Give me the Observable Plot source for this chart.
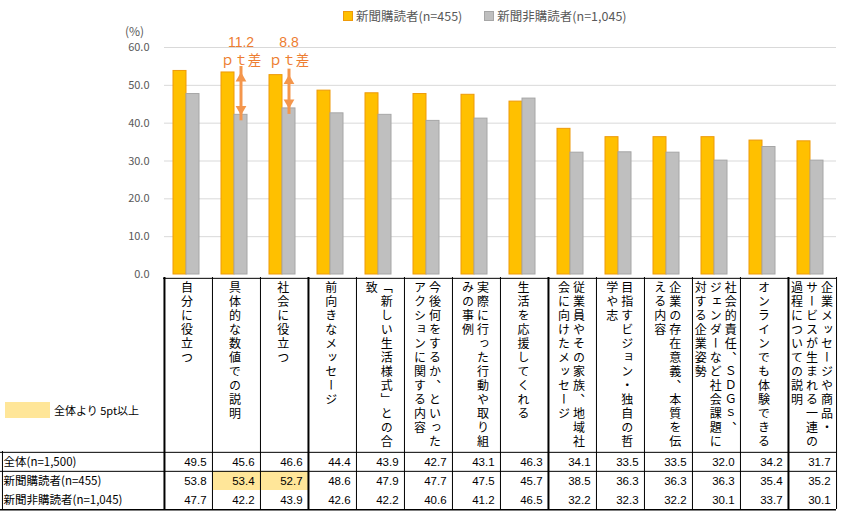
<!DOCTYPE html>
<html><head><meta charset="utf-8">
<script src="https://cdn.jsdelivr.net/npm/d3@7"></script>
<script src="https://cdn.jsdelivr.net/npm/@observablehq/plot@0.6"></script>
<style>
body{margin:0;background:#fff;font-family:"Noto Sans CJK JP","Noto Sans",sans-serif;}
#wrap{position:relative;width:850px;height:511px;overflow:hidden;background:#fff;}
#wrap svg{position:absolute;left:0;overflow:visible;}
#legend{position:absolute;top:6px;left:343px;font-size:12.5px;color:#595959;display:flex;align-items:center;white-space:nowrap;}
#legend .item{display:flex;align-items:center;margin-right:22px;}
#legend .sw{width:8px;height:8px;margin-right:3px;border:1px solid;}
#heads{position:absolute;top:277px;left:0;height:174px;}
.head{position:absolute;top:0;height:174px;display:flex;justify-content:center;}
.head div{writing-mode:vertical-rl;height:170px;margin-top:4px;font-size:12px;letter-spacing:2px;line-height:15px;color:#000;white-space:pre-line;}
#pct{position:absolute;font-size:12px;color:#595959;}
#note{position:absolute;left:5px;top:402px;display:flex;align-items:center;font-size:11px;color:#000;}
#note .sw{width:45px;height:16px;margin-right:4px;}
</style></head><body><div id="wrap"></div>
<script>
const categories = [
  "自分に役立つ",
  "具体的な数値での説明",
  "社会に役立つ",
  "前向きなメッセージ",
  "「新しい生活様式」との合致",
  "今後何をするか、といったアクションに関する内容",
  "実際に行った行動や取り組みの事例",
  "生活を応援してくれる",
  "従業員やその家族、地域社会に向けたメッセージ",
  "目指すビジョン・独自の哲学や志",
  "企業の存在意義、本質を伝える内容",
  "社会的責任、ＳＤＧｓ、\nジェンダーなど社会課題に\n対する企業姿勢",
  "オンラインでも体験できる",
  "企業メッセージや商品・\nサービスが生まれる一連の\n過程についての説明"
];
const total      = [49.5, 45.6, 46.6, 44.4, 43.9, 42.7, 43.1, 46.3, 34.1, 33.5, 33.5, 32.0, 34.2, 31.7];
const readers    = [53.8, 53.4, 52.7, 48.6, 47.9, 47.7, 47.5, 45.7, 38.5, 36.3, 36.3, 36.3, 35.4, 35.2];
const nonReaders = [47.7, 42.2, 43.9, 42.6, 42.2, 40.6, 41.2, 46.5, 32.2, 32.3, 32.2, 30.1, 33.7, 30.1];
const seriesNames = ["新聞購読者(n=455)", "新聞非購読者(n=1,045)"];
const rowLabels = ["全体(n=1,500)", "新聞購読者(n=455)", "新聞非購読者(n=1,045)"];
const yTicks = [0, 10, 20, 30, 40, 50, 60];
const highlighted = [1, 2];   // 新聞購読者 cells 5pt or more above 全体
const annotated = [1, 2];     // categories with the gap arrow
const groupStarts = [0, 3, 8, 13];
const noteText = "全体より 5pt以上";
const diffSuffix = "ｐｔ差";

const fills = ["#FFC000", "#BFBFBF"];
const strokes = ["#EE9A0A", "#A6A6A6"];
const orange = "#ED7D31";
const arrowColor = "#F4964C";
const highlightFill = "#FFE699";

const W = 850, ML = 163, MR = 14;
const bw = (W - ML - MR) / categories.length;
const wrap = document.getElementById("wrap");

const barsA = categories.map((c, i) => ({cat: c, v: readers[i]}));
const barsB = categories.map((c, i) => ({cat: c, v: nonReaders[i]}));
const annot = annotated.map(i => ({cat: categories[i], a: readers[i], b: nonReaders[i]}));

const chart = Plot.plot({
  width: W, height: 277,
  marginLeft: ML, marginRight: MR, marginTop: 47, marginBottom: 3,
  style: {fontFamily: "'Noto Sans CJK JP', 'Noto Sans', sans-serif", fontSize: "11px", color: "#595959", background: "transparent", overflow: "visible"},
  fx: {domain: categories, padding: 0, axis: null},
  x: {domain: seriesNames, paddingInner: 0, paddingOuter: 0.72, align: 0.42, axis: null},
  y: {domain: [0, 60], ticks: yTicks, tickFormat: d => d.toFixed(1), tickSize: 0, tickPadding: 15, label: null},
  marks: [
    Plot.ruleY(yTicks.slice(1), {stroke: "#d9d9d9", strokeWidth: 1}),
    Plot.barY(barsA, {fx: "cat", x: () => seriesNames[0], y: "v", fill: fills[0], stroke: strokes[0], strokeWidth: 1}),
    Plot.barY(barsB, {fx: "cat", x: () => seriesNames[1], y: "v", fill: fills[1], stroke: strokes[1], strokeWidth: 1}),
    Plot.ruleX(annot, {fx: "cat", x: () => seriesNames[1], y1: "b", y2: "a", insetTop: 6, insetBottom: 6, stroke: arrowColor, strokeWidth: 3}),
    Plot.dot(annot, {fx: "cat", x: () => seriesNames[1], y: "a", symbol: "triangle", r: 4, dy: 5.8, fill: arrowColor, stroke: "none"}),
    Plot.dot(annot, {fx: "cat", x: () => seriesNames[1], y: "b", symbol: "triangle", r: 4, rotate: 180, dy: -5.8, fill: arrowColor, stroke: "none"}),
    Plot.text(annot, {fx: "cat", x: () => seriesNames[1], text: d => (d.a - d.b).toFixed(1), frameAnchor: "top", lineAnchor: "middle", dy: -5, fill: orange, fontSize: 14, fontFamily: "'Liberation Sans', 'Noto Sans', sans-serif"}),
    Plot.text(annot, {fx: "cat", x: () => seriesNames[1], text: () => diffSuffix, frameAnchor: "top", lineAnchor: "middle", dy: 13, fill: orange, fontSize: 13.5})
  ]
});
chart.style.top = "0px";
wrap.appendChild(chart);

// (%) unit label
const pct = document.createElement("div");
pct.id = "pct"; pct.textContent = "(%)";
pct.style.left = "125px"; pct.style.top = "22px";
wrap.appendChild(pct);

// legend
const legend = document.createElement("div");
legend.id = "legend";
seriesNames.forEach((s, i) => {
  const it = document.createElement("div"); it.className = "item";
  const sw = document.createElement("span"); sw.className = "sw";
  sw.style.background = fills[i]; sw.style.borderColor = strokes[i];
  const t = document.createElement("span"); t.textContent = s;
  it.appendChild(sw); it.appendChild(t); legend.appendChild(it);
});
wrap.appendChild(legend);

// table
const rowH = 58 / rowLabels.length;
const cells = categories.flatMap((c, i) => [
  {cat: c, row: rowLabels[0], v: total[i]},
  {cat: c, row: rowLabels[1], v: readers[i]},
  {cat: c, row: rowLabels[2], v: nonReaders[i]}
]);
const hl = highlighted.map(i => ({cat: categories[i], row: rowLabels[1]}));
const table = Plot.plot({
  width: W, height: 235,
  marginLeft: ML, marginRight: MR, marginTop: 175, marginBottom: 2,
  style: {fontFamily: "'Noto Sans CJK JP', 'Noto Sans', sans-serif", background: "transparent", overflow: "visible", color: "#000"},
  x: {domain: categories, padding: 0, axis: null},
  y: {domain: rowLabels, padding: 0, axis: null},
  marks: [
    Plot.cell(hl, {x: "cat", y: "row", fill: highlightFill, inset: 0}),
    Plot.text(cells, {x: "cat", y: "row", text: d => d.v.toFixed(1), textAnchor: "end", dx: bw / 2 - 6, fontSize: 11.5, fontFamily: "'Liberation Sans Narrow', 'Liberation Sans', sans-serif", fill: "#000"}),
    Plot.text(rowLabels, {y: d => d, frameAnchor: "left", textAnchor: "start", dx: -ML + 3, fontSize: 11.5, fill: "#000"}),
    Plot.ruleX(categories, {x: d => d, dx: -bw / 2, insetTop: -174, stroke: "#000", strokeWidth: (d, i) => groupStarts.includes(i) ? 2 : 1}),
    Plot.ruleX(categories.slice(-1), {x: d => d, dx: bw / 2, insetTop: -174, stroke: "#000", strokeWidth: 1}),
    Plot.ruleX(categories.slice(0, 1), {x: d => d, dx: -bw / 2 - ML + 1, stroke: "#000", strokeWidth: 1}),
    Plot.ruleY(rowLabels.slice(0, 2), {y: d => d, dy: -rowH / 2, insetLeft: -ML, stroke: "#000", strokeWidth: 1}),
    Plot.ruleY(rowLabels.slice(2), {y: d => d, dy: rowH / 2, insetLeft: -ML, stroke: "#000", strokeWidth: 1.5}),
    Plot.ruleY(rowLabels.slice(0, 1), {y: d => d, dy: -rowH / 2 - 174, stroke: "#000", strokeWidth: 1})
  ]
});
table.style.top = "276px";
wrap.appendChild(table);

// vertical category headers
const heads = document.createElement("div");
heads.id = "heads";
categories.forEach((c, i) => {
  const h = document.createElement("div"); h.className = "head";
  h.style.left = (ML + i * bw) + "px"; h.style.width = bw + "px";
  const t = document.createElement("div"); t.textContent = c;
  h.appendChild(t); heads.appendChild(h);
});
wrap.appendChild(heads);

// highlight note
const note = document.createElement("div");
note.id = "note";
const nsw = document.createElement("span"); nsw.className = "sw"; nsw.style.background = highlightFill;
const nt = document.createElement("span"); nt.textContent = noteText;
note.appendChild(nsw); note.appendChild(nt);
wrap.appendChild(note);
</script></body></html>
